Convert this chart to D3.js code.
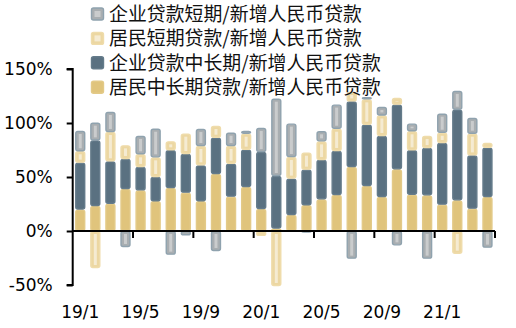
<!DOCTYPE html>
<html><head><meta charset="utf-8">
<script src="https://cdn.jsdelivr.net/npm/d3@7"></script>
<style>html,body{margin:0;padding:0;background:#fff;}svg{display:block;}</style>
</head><body><svg id="c" width="516" height="328"></svg>
<script>
const months = ["19/1","19/2","19/3","19/4","19/5","19/6","19/7","19/8","19/9","19/10","19/11","19/12",
"20/1","20/2","20/3","20/4","20/5","20/6","20/7","20/8","20/9","20/10","20/11","20/12","21/1","21/2","21/3","21/4"];
const householdLong = [19.8,23.1,25.3,38.9,37.6,27.5,39.8,35.5,27.5,52.8,31.8,40.7,20.4,2.2,14.8,23.8,29.3,33.3,59.3,41.7,31.5,57.1,33.6,33.0,24.4,28.4,20.7,31.5];
const corpLong = [43.5,60.8,39.2,27.8,21.7,22.5,34.9,35.8,33.3,33.6,30.5,34.6,52.7,48.7,33.7,33.0,36.4,40.8,60.7,56.7,56.5,59.9,41.1,43.8,57.1,83.9,49.3,45.6];
const householdShort = [10.5,-34.3,27.2,12.6,11.7,18.2,8.3,18.8,17.9,10.8,16.4,14.8,-4.5,-50.9,20.0,15.7,17.3,20.6,8.7,23.5,19.0,6.1,17.6,11.2,9.5,-21.0,20.1,4.4];
const corpShort = [18.8,16.4,18.5,-14.8,17.0,26.5,-21.9,-4.0,15.7,-18.5,12.3,2.5,22.3,71.6,30.9,-1.5,9.3,22.3,-25.6,2.1,7.8,-13.3,7.1,-25.6,17.6,17.3,14.5,-15.4];
const yTicks = [-50,0,50,100,150];
const xLabelMonths = ["19/1","19/5","19/9","20/1","20/5","20/9","21/1"];

const seriesNames = ["居民中长期贷款/新增人民币贷款","企业贷款中长期/新增人民币贷款","居民短期贷款/新增人民币贷款","企业贷款短期/新增人民币贷款"];
const seriesKeys = ["hl","cl","hs","cs"];
const fills = {hl:"#e0c47c", cl:"#5a7181", hs:"#ecd7a2", cs:"#a9aeb1"};
const strokes = {hl:"#e3ca88", cl:"#647b8a", hs:"#efdcab", cs:"#8fa2ae"};
const inner = {hs:"#f5ebd2", cs:"#cacccd"};

const rows = months.map((m,i)=>({m, hl:householdLong[i], cl:corpLong[i], hs:householdShort[i], cs:corpShort[i]}));

const svg = d3.select("#c");
const x = d3.scaleBand().domain(months).range([72.7,495]).paddingInner(0.34).paddingOuter(0.17);
const y = d3.scaleLinear().domain([-50,150]).range([285,69]);

const stack = d3.stack().keys(seriesKeys).offset(d3.stackOffsetDiverging);
const layers = stack(rows);

const g = svg.append("g");
layers.forEach(layer=>{
  const k = layer.key;
  layer.forEach(d=>{
    const v0 = d[0], v1 = d[1];
    if (v0===v1) return;
    const top = y(Math.max(v0,v1)), bot = y(Math.min(v0,v1));
    const bx = x(d.data.m), bw = x.bandwidth();
    g.append("rect").attr("x",bx+0.5).attr("y",top+0.5).attr("width",bw-1).attr("height",Math.max(0,bot-top-1))
      .attr("rx",2).attr("fill",fills[k]).attr("stroke",strokes[k]).attr("stroke-width",1.4);
    if (inner[k] && bot-top>6) {
      g.append("rect").attr("x",bx+bw/2-1.5).attr("y",top+3).attr("width",3).attr("height",bot-top-6)
        .attr("fill",inner[k]);
    }
  });
});

// y axis
const yAxis = d3.axisLeft(y).tickValues(yTicks).tickSize(6).tickPadding(14).tickFormat(d=>d+"%");
const ya = svg.append("g").attr("transform","translate(72.7,0)").call(yAxis);
ya.select(".domain").attr("stroke","#000").attr("stroke-width",2).attr("d","M-6,69H0V285H-6");
ya.selectAll(".tick line").attr("stroke","#000").attr("stroke-width",2);
ya.selectAll("text").attr("font-family","DejaVu Sans").attr("font-size",17).attr("fill","#000");

// x axis at zero
const boundaries = d3.range(4,29,4);
svg.append("line").attr("x1",72.7).attr("x2",495).attr("y1",y(0)).attr("y2",y(0)).attr("stroke","#000").attr("stroke-width",2);
const bScale = d3.scaleLinear().domain([0,28]).range([72.7,495]);
svg.selectAll(".xt").data(boundaries).enter().append("line")
  .attr("x1",d=>bScale(d)).attr("x2",d=>bScale(d)).attr("y1",y(0)).attr("y2",y(0)+7)
  .attr("stroke","#000").attr("stroke-width",2);
svg.selectAll(".xl").data(xLabelMonths).enter().append("text")
  .attr("x",d=>x(d)+x.bandwidth()/2).attr("y",318).attr("text-anchor","middle")
  .attr("font-family","DejaVu Sans").attr("font-size",17).attr("fill","#000").text(d=>d);

// legend (reverse order)
const legendOrder = [3,2,1,0];
const lg = svg.append("g");
legendOrder.forEach((si,j)=>{
  const k = seriesKeys[si];
  const cy = 14 + j*24.4;
  lg.append("rect").attr("x",91.5).attr("y",cy-6).attr("width",12).attr("height",12).attr("rx",2)
    .attr("fill",fills[k]).attr("stroke",strokes[k]).attr("stroke-width",1.4);
  if (inner[k]) lg.append("rect").attr("x",94.5).attr("y",cy-3).attr("width",6).attr("height",6).attr("fill",inner[k]);
  lg.append("text").attr("x",109).attr("y",cy).attr("dy","0.36em").attr("font-family","Noto Sans CJK SC")
    .attr("font-size",18.9).attr("fill","#111").text(seriesNames[si]);
});
</script></body></html>
